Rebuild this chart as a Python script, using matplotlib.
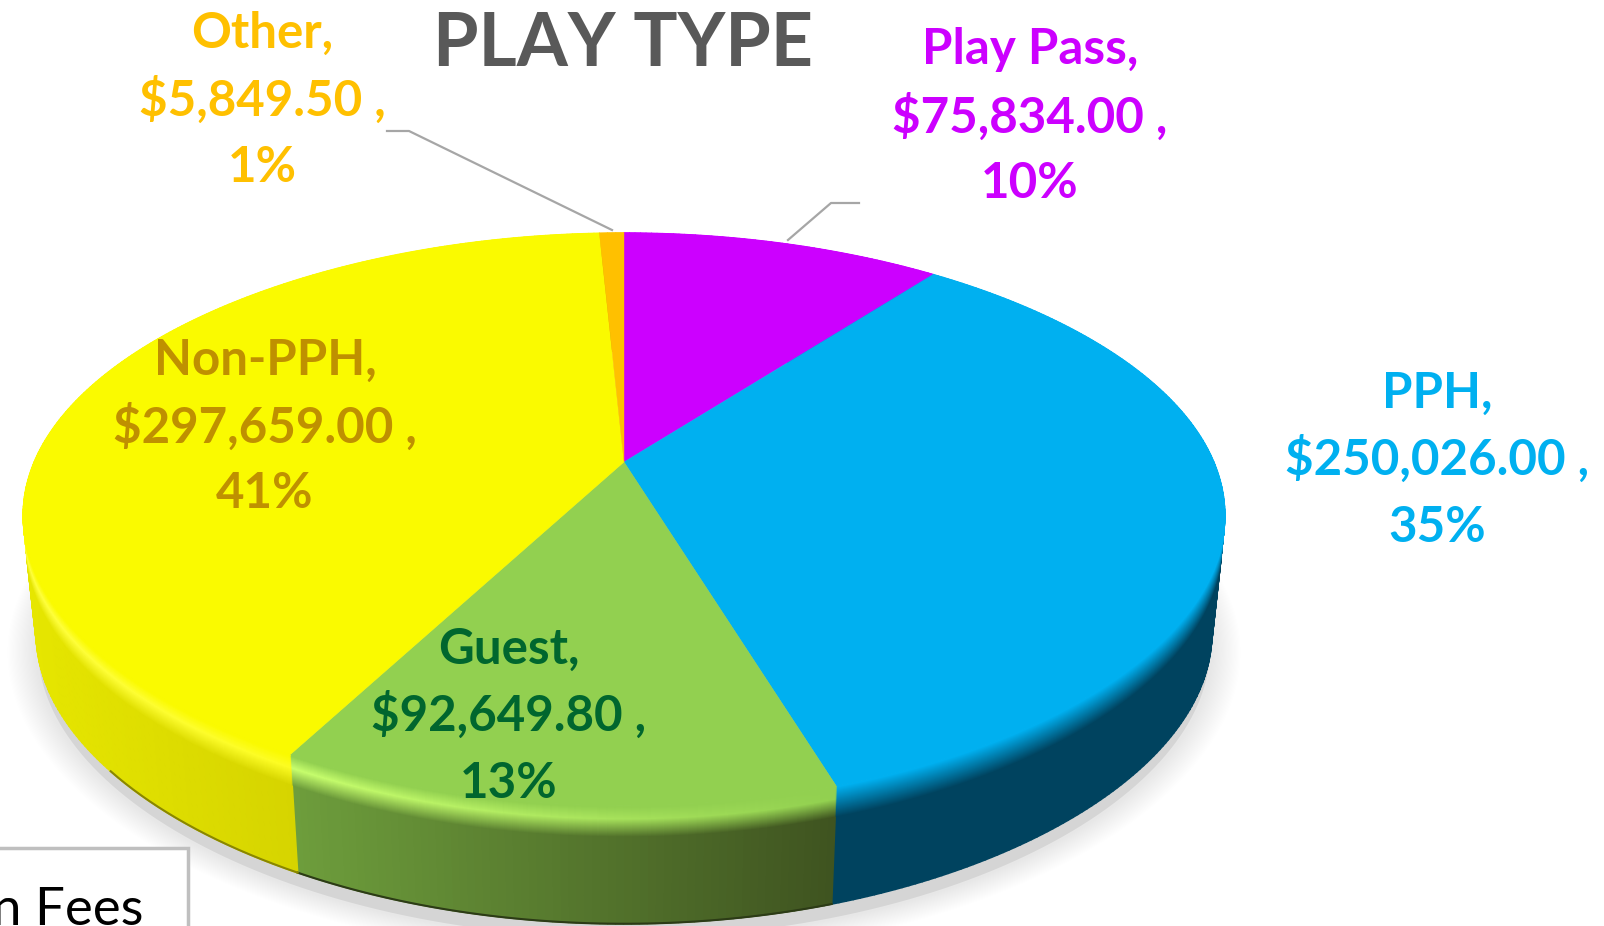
import matplotlib
matplotlib.use("Agg")
import matplotlib.pyplot as plt
import numpy as np
from matplotlib.collections import PolyCollection
from matplotlib.colors import to_rgb
from matplotlib.patches import Polygon, Rectangle

plt.rcParams['font.family'] = ['Lato', 'DejaVu Sans']

# chart values, clockwise from 12 o'clock
categories = ["Play Pass", "PPH", "Guest", "Non-PPH", "Other"]
values = [75834.00, 250026.00, 92649.80, 297659.00, 5849.50]
percents = [10, 35, 13, 41, 1]
title = "PLAY TYPE"

face_colors = ["#CC00FF", "#00B0F0", "#92D050", "#FAFA00", "#FFC000"]
text_colors = ["#CC00FF", "#00B0F0", "#00662E", "#BF9000", "#FFC000"]
side_right = ["#7A0099", "#00435F", "#3F5420", "#C4C000", "#997300"]
side_left = ["#7A0099", "#00435F", "#6E9E3C", "#E6E600", "#997300"]
highlight = [None, None, "#C8FF6E", "#FFFF40", None]

# label centres in pixels: x, then y of each of the three lines
label_pos = {
    "Play Pass": (1030, [50, 117, 184]),
    "PPH": (1437, [393, 459, 527]),
    "Guest": (509, [649, 715, 783]),
    "Non-PPH": (265, [360, 427, 494]),
    "Other": (262, [33, 100, 167]),
}

# pie geometry in pixels (a tilted disc, so the far side is squashed)
cx, cy = 624, 462
ky = 0.2
B = 275
A = 590
depth = 118
bevel = 30
taper = 0.022


def rim(theta, r=1.0, z=0.0):
    """Point on the disc edge, theta clockwise from the top."""
    u = r * np.sin(theta)
    v = r * np.cos(theta)
    kx = 0.195 + 0.025 * v
    x = cx + A * u / (1 + kx * v) * (1 - taper * z / depth)
    y = cy - B * v / (1 + ky * v) + z
    return x, y


def mix(a, b, t):
    a, b = np.array(to_rgb(a)), np.array(to_rgb(b))
    return tuple(a + (b - a) * t)


fig = plt.figure(figsize=(16.04, 9.26), dpi=100)
ax = fig.add_axes([0, 0, 1, 1])
ax.set_xlim(0, 1604)
ax.set_ylim(926, 0)
ax.axis("off")

# soft shadow under the pie
full = np.linspace(0, 2 * np.pi, 300)
x, y = rim(full, r=1.0, z=depth + 14)
ax.add_patch(Polygon(np.column_stack([x, y]), closed=True, facecolor="black",
                     edgecolor="none", alpha=0.07, zorder=1))
for r in np.linspace(1.05, 1.005, 24):
    x, y = rim(full, r=r, z=depth + 14)
    ax.add_patch(Polygon(np.column_stack([x, y]), closed=True, facecolor="black",
                         edgecolor="none", alpha=0.002, zorder=1))

edges = np.cumsum([0] + values) / sum(values) * 2 * np.pi

# side wall, then the rounded edge, both from the bottom up
polys, cols = [], []
for i in range(len(values)):
    t = np.linspace(edges[i], edges[i + 1], max(4, int((edges[i + 1] - edges[i]) * 90)))
    x0, _ = rim(t)
    span = max(x0.max() - x0.min(), 1)
    s = (x0.max() - x0) / span
    for j in range(len(t) - 1):
        xa, ya = rim(t[j:j + 2], z=bevel)
        xb, yb = rim(t[j:j + 2], z=depth)
        polys.append([(xa[0], ya[0]), (xa[1], ya[1]), (xb[1], yb[1]), (xb[0], yb[0])])
        cols.append(mix(side_right[i], side_left[i], s[j]))
ax.add_collection(PolyCollection(polys, facecolors=cols, edgecolors=cols, linewidths=1.2, zorder=2))

polys, cols = [], []
steps = np.arange(bevel - 1, -1, -1.0)
for z in steps:
    f = z / bevel
    for i in range(len(values)):
        t = np.linspace(edges[i], edges[i + 1], max(4, int((edges[i + 1] - edges[i]) * 90)))
        x0, _ = rim(t)
        span = max(x0.max() - x0.min(), 1)
        s = (x0.max() - x0) / span
        for j in range(len(t) - 1):
            xa, ya = rim(t[j:j + 2], z=z)
            xb, yb = rim(t[j:j + 2], z=z + 1)
            polys.append([(xa[0], ya[0]), (xa[1], ya[1]), (xb[1], yb[1]), (xb[0], yb[0])])
            side = mix(side_right[i], side_left[i], s[j])
            if highlight[i] is None:
                c = mix(face_colors[i], side, f)
            else:
                high = mix(face_colors[i], highlight[i], s[j])
                if f < 0.4:
                    c = tuple(np.array(to_rgb(face_colors[i])) + (np.array(high) - np.array(to_rgb(face_colors[i]))) * f / 0.4)
                else:
                    c = tuple(np.array(high) + (np.array(side) - np.array(high)) * (f - 0.4) / 0.6)
            cols.append(c)
ax.add_collection(PolyCollection(polys, facecolors=cols, edgecolors=cols, linewidths=0.8, zorder=3))

# dark line along the bottom of the wall, front part only
for i in range(2, 4):
    t = np.linspace(edges[i], edges[i + 1], 120)
    t = t[np.cos(t) < -0.6]
    x, y = rim(t, z=depth)
    ax.plot(x, y, color=mix(side_right[i], "black", 0.3), lw=1.5, zorder=4)

# top face
for i in range(len(values)):
    t = np.linspace(edges[i], edges[i + 1], 150)
    x, y = rim(t)
    pts = np.column_stack([np.r_[cx, x], np.r_[cy, y]])
    ax.add_patch(Polygon(pts, closed=True, facecolor=face_colors[i],
                         edgecolor=face_colors[i], lw=0.3, zorder=5))

# leader lines
ax.plot([387, 409, 612], [131, 131, 230], color="#A6A6A6", lw=1.6, zorder=6)
ax.plot([859, 831, 788], [203, 203, 240], color="#A6A6A6", lw=1.6, zorder=6)

# data labels
for name, val, pct, col in zip(categories, values, percents, text_colors):
    lx, ly = label_pos[name]
    lines = [name + ",", "${:,.2f} ,".format(val), "{}%".format(pct)]
    for line, yy in zip(lines, ly):
        ax.text(lx, yy, line, color=col, fontsize=35.5, fontweight="bold",
                ha="center", va="center", zorder=7)

ax.text(623, 45, title, color="#595959", fontsize=53, fontweight="bold",
        ha="center", va="center", zorder=7)

# corner of the legend box that is cut by the image edge
box = Rectangle((-10, 848), 198, 100, facecolor="white", edgecolor="#BFBFBF", lw=2.5, zorder=8)
ax.add_patch(box)
ax.text(143, 925, "n Fees", color="black", fontsize=38, ha="right", va="baseline",
        zorder=9, clip_on=True)

fig.savefig("out.png", dpi=100)
